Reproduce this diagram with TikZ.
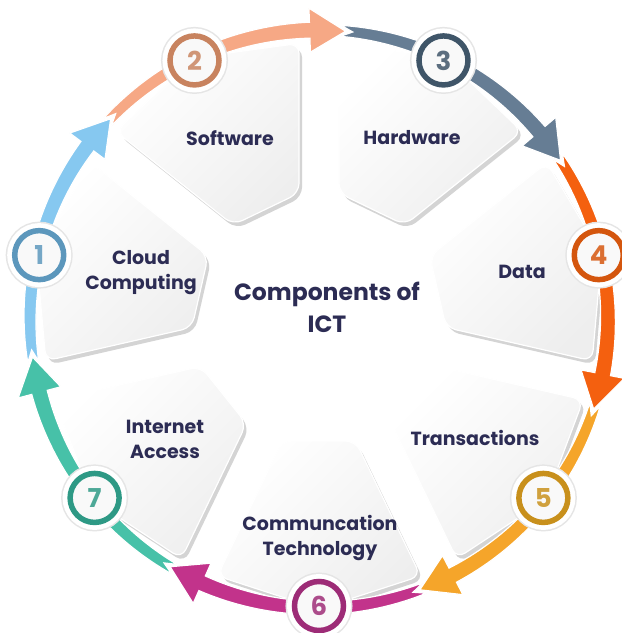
\documentclass[tikz,border=0pt]{standalone}
\usepackage{fontspec}
\setmainfont{Poppins}
\usepackage{xcolor}
\usepackage{tikz}
\usetikzlibrary{calc}

\definecolor{ink}{HTML}{2C2C54}
\definecolor{arcA}{HTML}{86C8F0}
\definecolor{arcB}{HTML}{F6A885}
\definecolor{arcC}{HTML}{667D94}
\definecolor{arcD}{HTML}{F4600F}
\definecolor{arcE}{HTML}{F5A52A}
\definecolor{arcF}{HTML}{C2338B}
\definecolor{arcG}{HTML}{47C1A8}
\definecolor{ringA}{HTML}{5C97BC}
\definecolor{ringB}{HTML}{C8835F}
\definecolor{ringC}{HTML}{3F5568}
\definecolor{ringD}{HTML}{D4560E}
\definecolor{ringE}{HTML}{C8901C}
\definecolor{ringF}{HTML}{9D2C77}
\definecolor{ringG}{HTML}{2E9985}

\begin{document}
\begin{tikzpicture}[x=1pt,y=1pt]
\tikzset{
    segtext/.style={font=\fontsize{19}{25}\selectfont\bfseries, text=ink, align=center},
    titletext/.style={font=\fontsize{23.5}{32}\selectfont\bfseries, text=ink, align=center},
    badge/.style={circle, minimum size=49, inner sep=0, line width=5.5, draw=#1,
        fill=gray!5, text=#1!85!white,
        font=\fontsize{26}{26}\selectfont\bfseries,
        preaction={draw=black!10, line width=18},
        preaction={draw=white, line width=15}},
    pics/segment/.style={code={
        \fill[black!17, shift={(3,-4)}, rotate=#1, rounded corners=10]
            (122,-36.6) -- (257,-101.6) -- (290,0) -- (257,101.6) -- (122,36.6) -- cycle;
        \shade[rotate=#1, rounded corners=10, top color=white, bottom color=gray!13,
            shading angle=45, draw=white, line width=1.2]
            (122,-36.6) -- (257,-101.6) -- (290,0) -- (257,101.6) -- (122,36.6) -- cycle;
    }},
    % shaft gets wider towards the head
    pics/ringarrow/.style={code={
        \fill[#1, draw=white, line width=1.2]
            plot[domain=52.4:7.14, samples=40] (\x:{297-2.5*(\x-7.14)/45.26})
            -- (7.14:311) -- (0:289) -- (7.14:267)
            -- plot[domain=7.14:52.4, samples=40] (\x:{281+2.5*(\x-7.14)/45.26})
            -- (50.0:289) -- cycle;
    }}
}
\useasboundingbox (-319,-314) rectangle (303,319);
\fill[white] (-319,-314) rectangle (303,319);

% Segments
\pic at (0,0) {segment=167.14};
\pic at (0,0) {segment=115.71};
\pic at (0,0) {segment=64.29};
\pic at (0,0) {segment=12.86};
\pic at (0,0) {segment=-38.57};
\pic at (0,0) {segment=-90};
\pic at (0,0) {segment=218.57};

% Arrows round the ring
\pic[rotate=136.14] at (0,0) {ringarrow=arcA};
\pic[rotate=84.71]  at (0,0) {ringarrow=arcB};
\pic[rotate=33.29]  at (0,0) {ringarrow=arcC};
\pic[rotate=-18.14] at (0,0) {ringarrow=arcD};
\pic[rotate=-69.57] at (0,0) {ringarrow=arcE};
\pic[rotate=-121]   at (0,0) {ringarrow=arcF};
\pic[rotate=187.57] at (0,0) {ringarrow=arcG};

% Numbers
\node[badge=ringA] (one)   at (167.14:287) {1};
\node[badge=ringB] (two)   at (115.71:287) {2};
\node[badge=ringC] (three) at (64.29:287)  {3};
\node[badge=ringD] (four)  at (12.86:287)  {4};
\node[badge=ringE] (five)  at (-38.57:287) {5};
\node[badge=ringF] (six)   at (-90:287)    {6};
\node[badge=ringG] (seven) at (218.57:287) {7};

% Labels
\node[segtext] (cloud) at (-178,46)  {Cloud\\Computing};
\node[segtext] (soft)  at (-89,181)  {Software};
\node[segtext] (hard)  at (93,181)   {Hardware};
\node[segtext] (data)  at (203,47)   {Data};
\node[segtext] (trans) at (156,-119) {Transactions};
\node[segtext] (comm)  at (1,-219)   {Communcation\\Technology};
\node[segtext] (net)   at (-154,-120) {Internet\\Access};

\node[titletext] (ict) at (8,12) {Components of\\ICT};

\end{tikzpicture}
\end{document}
